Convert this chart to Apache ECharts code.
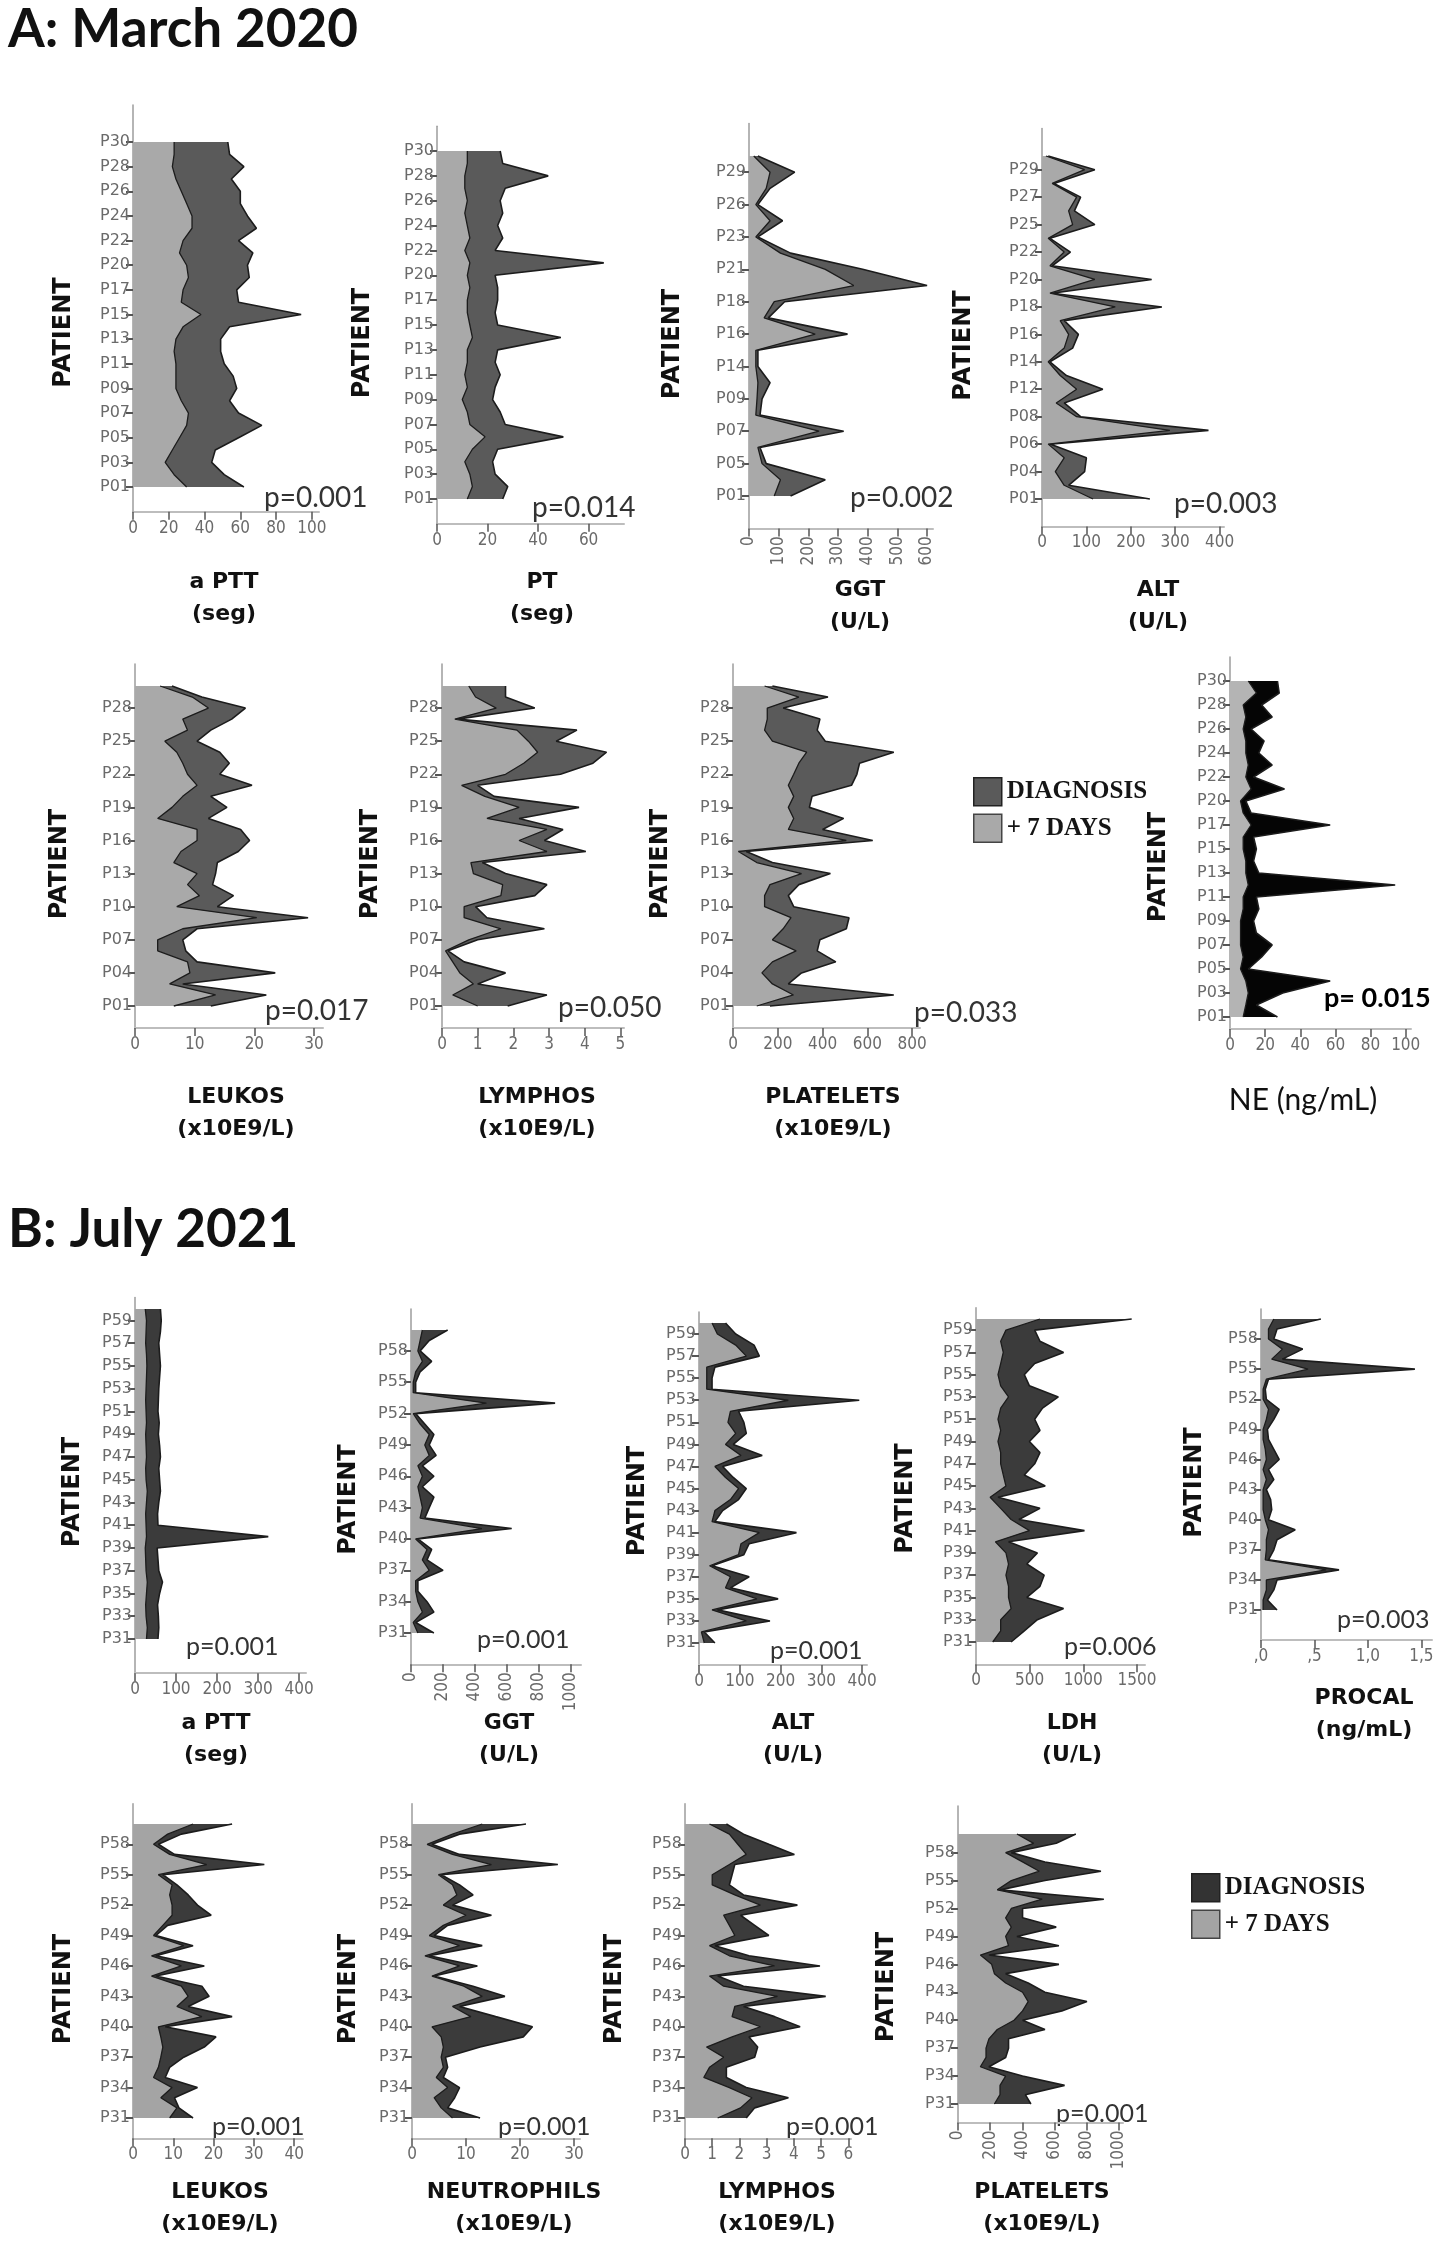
<!DOCTYPE html>
<html>
<head>
<meta charset="utf-8">
<title>Laboratory values by patient</title>
<script src="https://cdn.jsdelivr.net/npm/echarts@6.0.0/dist/echarts.min.js"></script>
<style>
  html, body { margin: 0; padding: 0; background: #fff; }
  #chart { width: 1444px; height: 2244px; }
</style>
</head>
<body>
<div id="chart"></div>
<script>
// patient lists (categories, bottom to top)
var patientsA = ['P01','P02','P03','P04','P05','P06','P07','P08','P09','P10','P11','P12','P13','P14','P15','P16','P17','P18','P19','P20','P21','P22','P23','P24','P25','P26','P27','P28','P29','P30'];
var patientsA29 = ['P01','P02','P03','P04','P05','P06','P07','P08','P09','P10','P11','P12','P13','P14','P15','P16','P17','P18','P20','P21','P22','P23','P24','P25','P26','P27','P28','P29','P30'];
var patientsAggt = ['P01','P03','P05','P06','P07','P08','P09','P11','P14','P15','P16','P17','P18','P20','P21','P22','P23','P25','P26','P27','P29','P30'];
var patientsAalt = ['P01','P03','P04','P05','P06','P07','P08','P10','P12','P13','P14','P15','P16','P17','P18','P19','P20','P21','P22','P24','P25','P26','P27','P28','P29','P30'];
var patientsB = ['P31','P32','P33','P34','P35','P36','P37','P38','P39','P40','P41','P42','P43','P44','P45','P46','P47','P48','P49','P50','P51','P52','P53','P54','P55','P56','P57','P58','P59','P60'];

// A: March 2020
var apttA_diag = [62,51,44,46,59,72,59,54,58,56,51,49,49,54,94,59,58,65,64,67,59,69,64,60,60,55,62,54,53];
var apttA_day7 = [30,23,18,22,26,30,31,27,24,24,24,23,24,28,38,27,28,31,30,26,28,33,33,30,27,24,22,23,23];
var ptA_diag = [26,28,23,22,24,50,27,25,22,23,25,23,24,49,24,23,24,24,23,66,23,26,24,26,25,27,44,26,25];
var ptA_day7 = [12,14,13,11,14,19,13,12,10,12,11,12,12,14,13,12,12,13,12,13,11,13,12,11,12,11,11,12,12];
var ggtA_diag = [140,257,58,37,319,37,44,71,30,30,332,65,120,600,383,140,30,113,30,71,154,30];
var ggtA_day7 = [85,106,44,30,236,23,27,30,23,23,223,51,85,353,257,106,23,71,23,58,71,16];
var altA_diag = [243,60,96,100,18,375,87,50,137,55,18,69,82,50,270,23,247,23,64,18,119,73,87,27,119,14];
var altA_day7 = [115,50,30,50,14,288,78,32,78,41,14,50,60,41,165,18,119,18,50,14,69,60,78,23,96,9];
var leukosA_diag = [12.7,22,8,23.5,10.4,8.5,8,10.4,29,13.8,16.5,13,13.5,13.8,17.3,19.2,17.7,12.3,15.4,12.7,19.6,14.2,15.8,14.2,10.4,12.7,16.2,18.5,11.2,6.2];
var leukosA_day7 = [6.5,13.5,5.8,9.2,8.8,3.8,3.8,8,20.4,7,10.8,8.8,10.4,6.5,7.7,10.4,10.4,3.8,6.2,8,10.4,8.8,8,7,5,8.8,8,12.3,9.6,4.2];
var lymphosA_diag = [1.84,2.94,1.0,1.78,0.62,0.17,1.0,2.87,1.26,0.94,2.6,2.94,1.78,1.13,4.03,2.87,3.39,2.16,3.84,1.46,1.0,3.32,4.23,4.61,3.2,3.78,0.43,2.6,1.78,1.78];
var lymphosA_day7 = [1.0,0.3,0.88,0.5,0.3,0.1,0.75,1.65,0.62,0.62,1.65,1.7,0.88,0.81,2.94,2.16,2.94,1.26,2.16,1.2,0.55,1.78,2.29,2.68,2.42,2.1,0.36,1.52,0.94,0.75];
var plateletsA_diag = [165,718,247,306,459,376,388,506,518,271,247,294,435,176,59,624,400,494,341,353,529,553,565,718,412,376,388,224,424,176];
var plateletsA_day7 = [106,270,176,129,176,282,176,224,259,141,141,165,306,106,24,506,247,271,247,271,247,271,294,329,176,141,153,153,294,141];
var neA_diag = [27,15,30,57,10.4,18,24,15,13.4,16.4,15,94,16.4,13.4,15,13.4,57,12,9,31,13.4,24,16.4,19.4,12,24,18,28,27];
var neA_day7 = [7.5,9,10.4,9,6,7.5,6,6,6,7.5,7.5,10.4,9,9,7.5,7.5,12,7.5,6,12,9,10.4,9,9,7.5,9,7.5,15,10.4];

// B: July 2021
var apttB_diag = [56,58,57,55,60,67,58,56,54,325,56,55,58,62,60,58,62,60,57,59,56,57,58,60,62,60,58,62,64,62];
var apttB_day7 = [28,30,27,26,28,30,27,26,25,28,27,26,28,30,27,26,28,27,26,28,27,26,27,28,29,28,26,27,28,25];
var ggtB_diag = [143,29,143,100,43,43,200,100,129,43,629,86,114,143,71,143,71,157,114,143,86,29,900,29,29,57,129,57,114,229];
var ggtB_day7 = [43,14,71,43,29,29,114,71,100,29,443,57,71,57,43,71,43,114,86,114,57,14,471,14,14,29,71,43,57,71];
var altB_diag = [39,13,174,45,194,77,123,32,110,123,239,39,58,97,116,84,58,155,84,116,110,97,393,32,32,39,148,135,90,65];
var altB_day7 = [13,6,116,32,142,65,77,26,97,103,148,32,39,77,97,65,39,103,65,90,71,77,219,19,19,19,116,90,45,32];
var ldhB_diag = [327,450,572,816,474,596,635,474,572,303,1011,400,596,205,645,450,547,596,498,596,547,620,767,498,450,547,816,596,547,1451];
var ldhB_day7 = [156,230,230,327,303,303,279,303,279,181,498,327,230,132,279,254,230,230,205,230,205,230,303,230,205,230,254,230,279,596];
var procalB_diag = [0.15,0.06,0.12,0.15,0.73,0.07,0.12,0.15,0.32,0.07,0.1,0.09,0.05,0.12,0.07,0.17,0.12,0.07,0.06,0.12,0.17,0.05,0.04,0.07,1.44,0.2,0.39,0.12,0.15,0.56];
var procalB_day7 = [0.02,0.02,0.05,0.05,0.61,0.04,0.05,0.05,0.07,0.04,0.02,0.02,0.02,0.05,0.02,0.05,0.04,0.02,0.02,0.05,0.07,0.02,0.02,0.05,0.44,0.1,0.2,0.07,0.07,0.12];
var leukosB_diag = [14.9,11.4,10.3,16,8,9.1,12.6,17.7,20.6,8,24.6,13.7,18.9,17.1,5.7,17.7,5.7,14.9,5.7,8.6,19.4,16,13.7,10.9,7.4,32.6,10.3,6.3,12,24.6];
var leukosB_day7 = [9.1,10.9,6.9,9.7,5.1,6.3,6.9,7.4,6.9,6.3,17.1,10.9,13.7,12,4.6,12,4.6,12.6,5.1,7.4,9.7,9.7,9.1,9.7,6.3,18.3,9.1,5.1,8.6,14.9];
var neutroB_diag = [12.6,6.6,7.9,8.8,5.8,6.6,6.2,12.6,20.6,22.3,15.5,8.8,17.2,11.3,4.1,12.1,3.2,13,4.1,6.6,14.7,7.5,11.3,8.8,5.4,27,8.8,3.7,8.8,21.1];
var neutroB_day7 = [7.5,5.4,4.1,6.6,4.5,5.8,5.4,5.8,5.4,3.7,10.9,7.5,13,9.6,3.7,8.8,2.4,8.8,3.2,5.8,10,5.8,8.3,7.5,4.9,14.7,7.5,2.8,7.5,13];
var lymphosB_diag = [2.25,2.56,3.8,2.25,1.52,1.52,2.56,2.67,2.35,4.23,3.29,2.15,5.17,2.15,1.2,4.96,2.35,1.1,3.08,2.56,2.04,4.13,2.15,1.63,1.73,1.83,4.02,3.08,2.15,1.52];
var lymphosB_day7 = [1.2,2.04,2.46,1.63,0.69,0.9,1.42,0.79,1.73,2.77,1.73,1.83,3.4,1.42,0.9,3.29,1.63,0.9,1.83,1.63,1.42,2.77,1.83,1.0,1.0,1.63,2.25,1.94,1.63,0.9];
var plateletsB_diag = [453,418,662,401,192,296,314,314,540,401,645,801,540,436,296,627,192,627,366,610,401,401,906,261,540,888,540,331,610,732];
var plateletsB_day7 = [226,261,261,296,139,174,174,192,244,348,401,436,401,296,226,209,139,314,296,331,296,331,523,244,331,505,401,296,470,366];

// x tick labels per panel
var ticks100 = [0,20,40,60,80,100];
var ticksPT = [0,20,40,60];
var ticksGgtA = [0,100,200,300,400,500,600];
var ticksAlt = [0,100,200,300,400];
var ticksLeukosA = [0,10,20,30];
var ticksLymphosA = [0,1,2,3,4,5];
var ticksPlateletsA = [0,200,400,600,800];
var ticksGgtB = [0,200,400,600,800,1000];
var ticksLdh = [0,500,1000,1500];
var ticksProcal = [0,0.5,1,1.5];
var ticksLeukosB = [0,10,20,30,40];
var ticksNeutro = [0,10,20,30];
var ticksLymphosB = [0,1,2,3,4,5,6];

var themes = {
  A:  { dark: '#5a5a5a', light: '#a9a9a9' },
  NE: { dark: '#050505', light: '#b4b4b4' },
  B:  { dark: '#3b3b3b', light: '#a4a4a4' }
};

// box = [left, axisTop, dataTop, dataBottom, xAxisY, width]
var panels = [
  { cats: patientsA29, step: 2, diag: apttA_diag, day7: apttA_day7, max: 104, ticks: ticks100,
    box: [133,108,142,487,514,186], title: ['a PTT','(seg)'], tx: 224, ty: 582, p: 'p=0.001', px: 264, py: 498, patX: 64, theme: 'A' },
  { cats: patientsA29, step: 2, diag: ptA_diag, day7: ptA_day7, max: 74, ticks: ticksPT,
    box: [437,125,151,499,524,187], title: ['PT','(seg)'], tx: 542, ty: 582, p: 'p=0.014', px: 532, py: 508, patX: 363, theme: 'A' },
  { cats: patientsAggt, step: 2, diag: ggtA_diag, day7: ggtA_day7, max: 620, ticks: ticksGgtA, rotate: 90,
    box: [749,131,156,496,521,184], title: ['GGT','(U/L)'], tx: 860, ty: 590, p: 'p=0.002', px: 850, py: 498, patX: 673, theme: 'A' },
  { cats: patientsAalt, step: 2, diag: altA_diag, day7: altA_day7, max: 410, ticks: ticksAlt,
    box: [1042,131,156,499,521,182], title: ['ALT','(U/L)'], tx: 1158, ty: 590, p: 'p=0.003', px: 1174, py: 504, patX: 964, theme: 'A' },

  { cats: patientsA, step: 3, diag: leukosA_diag, day7: leukosA_day7, max: 31.5, ticks: ticksLeukosA,
    box: [135,664,686,1006,1030,188], title: ['LEUKOS','(x10E9/L)'], tx: 236, ty: 1097, p: 'p=0.017', px: 265, py: 1011, patX: 60, theme: 'A' },
  { cats: patientsA, step: 3, diag: lymphosA_diag, day7: lymphosA_day7, max: 5.1, ticks: ticksLymphosA,
    box: [442,664,686,1006,1030,182], title: ['LYMPHOS','(x10E9/L)'], tx: 537, ty: 1097, p: 'p=0.050', px: 558, py: 1008, patX: 371, theme: 'A' },
  { cats: patientsA, step: 3, diag: plateletsA_diag, day7: plateletsA_day7, max: 835, ticks: ticksPlateletsA,
    box: [733,664,686,1006,1030,187], title: ['PLATELETS','(x10E9/L)'], tx: 833, ty: 1097, p: 'p=0.033', px: 914, py: 1013, patX: 661, theme: 'A' },
  { cats: patientsA29, step: 2, diag: neA_diag, day7: neA_day7, max: 103, ticks: ticks100,
    box: [1230,662,681,1017,1030,181], title: ['NE (ng/mL)'], titleRegular: true, tx: 1303, ty: 1100, p: 'p= 0.015', pBold: true, px: 1324, py: 998, patX: 1159, theme: 'NE' },

  { cats: patientsB, step: 2, diag: apttB_diag, day7: apttB_day7, max: 417, ticks: ticksAlt,
    box: [135,1295,1309,1639,1669,171], title: ['a PTT','(seg)'], tx: 216, ty: 1723, p: 'p=0.001', px: 186, py: 1647, patX: 73, theme: 'B', small: true },
  { cats: patientsB, step: 3, diag: ggtB_diag, day7: ggtB_day7, max: 1062, ticks: ticksGgtB, rotate: 90,
    box: [411,1304,1330,1633,1662,170], title: ['GGT','(U/L)'], tx: 509, ty: 1723, p: 'p=0.001', px: 477, py: 1640, patX: 349, theme: 'B', small: true },
  { cats: patientsB, step: 2, diag: altB_diag, day7: altB_day7, max: 412, ticks: ticksAlt,
    box: [699,1307,1323,1643,1666,168], title: ['ALT','(U/L)'], tx: 793, ty: 1723, p: 'p=0.001', px: 770, py: 1651, patX: 638, theme: 'B', small: true },
  { cats: patientsB, step: 2, diag: ldhB_diag, day7: ldhB_day7, max: 1575, ticks: ticksLdh,
    box: [976,1304,1319,1642,1664,169], title: ['LDH','(U/L)'], tx: 1072, ty: 1723, p: 'p=0.006', px: 1064, py: 1647, patX: 906, theme: 'B', small: true },
  { cats: patientsB, step: 3, diag: procalB_diag, day7: procalB_day7, max: 1.6, ticks: ticksProcal, comma: true,
    box: [1261,1304,1319,1610,1636,171], title: ['PROCAL','(ng/mL)'], tx: 1364, ty: 1698, p: 'p=0.003', px: 1337, py: 1620, patX: 1195, theme: 'B', small: true },

  { cats: patientsB, step: 3, diag: leukosB_diag, day7: leukosB_day7, max: 42.2, ticks: ticksLeukosB,
    box: [133,1805,1824,2118,2141,170], title: ['LEUKOS','(x10E9/L)'], tx: 220, ty: 2192, p: 'p=0.001', px: 212, py: 2127, patX: 64, theme: 'B', small: true },
  { cats: patientsB, step: 3, diag: neutroB_diag, day7: neutroB_day7, max: 31.1, ticks: ticksNeutro,
    box: [412,1805,1824,2118,2141,168], title: ['NEUTROPHILS','(x10E9/L)'], tx: 514, ty: 2192, p: 'p=0.001', px: 498, py: 2127, patX: 349, theme: 'B', small: true },
  { cats: patientsB, step: 3, diag: lymphosB_diag, day7: lymphosB_day7, max: 6.1, ticks: ticksLymphosB,
    box: [685,1805,1824,2118,2141,166], title: ['LYMPHOS','(x10E9/L)'], tx: 777, ty: 2192, p: 'p=0.001', px: 786, py: 2127, patX: 615, theme: 'B', small: true },
  { cats: patientsB, step: 3, diag: plateletsB_diag, day7: plateletsB_day7, max: 1025, ticks: ticksGgtB, rotate: 90,
    box: [958,1810,1834,2104,2124,165], title: ['PLATELETS','(x10E9/L)'], tx: 1042, ty: 2192, p: 'p=0.001', px: 1056, py: 2114, patX: 887, theme: 'B', small: true }
];

var catFont = '"DejaVu Sans", sans-serif';
var valFont = '"Liberation Sans Narrow", "DejaVu Sans Condensed", sans-serif';
var grids = [], xAxes = [], yAxes = [], series = [], graphics = [];

panels.forEach(function (pn, k) {
  var b = pn.box, n = pn.cats.length;
  var spacing = (b[3] - b[2]) / (n - 1);
  var padB = Math.max(1, Math.round((b[4] - b[3]) / spacing));
  var padT = Math.max(0, Math.round((b[2] - b[1]) / spacing));
  var cats = [], i;
  for (i = 0; i < padB; i++) cats.push('_b' + i);
  cats = cats.concat(pn.cats);
  for (i = 0; i < padT; i++) cats.push('_t' + i);
  var pad = function (arr) {
    var out = [];
    for (var j = 0; j < padB; j++) out.push(null);
    out = out.concat(arr);
    for (var j2 = 0; j2 < padT; j2++) out.push(null);
    return out;
  };
  var showIdx = function (idx) {
    return idx >= padB && idx < padB + n && (idx - padB) % pn.step === 0;
  };
  var th = themes[pn.theme];

  grids.push({
    left: b[0], top: b[2] - padT * spacing, width: b[5],
    height: (n - 1 + padT + padB) * spacing, containLabel: false
  });
  xAxes.push({
    gridIndex: k, type: 'value', min: 0, max: pn.max,
    axisLine: { show: true, lineStyle: { color: '#bdbdbd', width: 2 } },
    axisTick: { show: true, customValues: pn.ticks, length: 8, lineStyle: { color: '#555', width: 1.5 } },
    axisLabel: {
      customValues: pn.ticks, color: '#6a6a6a', fontSize: 17, fontFamily: valFont,
      rotate: pn.rotate || 0, margin: 8,
      formatter: function (v) {
        if (!pn.comma) return String(v);
        return v < 1 ? ',' + String(Math.round(v * 10)) : v.toFixed(1).replace('.', ',');
      }
    },
    splitLine: { show: false }
  });
  yAxes.push({
    gridIndex: k, type: 'category', data: cats, boundaryGap: false,
    axisLine: { show: true, lineStyle: { color: '#9c9c9c', width: 1.5 } },
    axisTick: { show: true, interval: showIdx, length: 7, lineStyle: { color: '#555', width: 2 } },
    axisLabel: { interval: showIdx, color: '#6a6a6a', fontSize: 16, fontFamily: catFont, margin: 3 },
    splitLine: { show: false }
  });
  series.push({
    type: 'line', name: 'DIAGNOSIS', xAxisIndex: k, yAxisIndex: k, data: pad(pn.diag),
    symbol: 'none', z: 2, lineStyle: { color: '#1c1c1c', width: 1.6 },
    areaStyle: { color: th.dark, opacity: 1 }
  });
  series.push({
    type: 'line', name: '+ 7 DAYS', xAxisIndex: k, yAxisIndex: k, data: pad(pn.day7),
    symbol: 'none', z: 3, lineStyle: { color: '#1c1c1c', width: 1.3 },
    areaStyle: { color: th.light, opacity: 1 }
  });

  // axis names and p-values
  graphics.push({
    type: 'text', x: pn.patX, y: (b[2] + b[3]) / 2 + 18, rotation: Math.PI / 2,
    style: { text: 'PATIENT', font: 'bold 24px "DejaVu Sans", sans-serif', fill: '#111',
             align: 'center', verticalAlign: 'middle' }
  });
  pn.title.forEach(function (t, j) {
    graphics.push({
      type: 'text', x: pn.tx, y: pn.ty + j * 32,
      style: { text: t,
               font: pn.titleRegular ? '30px Lato, sans-serif' : 'bold 22px "DejaVu Sans", sans-serif',
               fill: '#111', align: 'center', verticalAlign: 'middle' }
    });
  });
  graphics.push({
    type: 'text', x: pn.px, y: pn.py,
    style: { text: pn.p, font: (pn.pBold ? 'bold 27px' : (pn.small ? '25px' : '28px')) + ' Lato, sans-serif',
             fill: pn.pBold ? '#000' : '#333', align: 'left', verticalAlign: 'middle' }
  });
});

graphics.push({
  type: 'text', x: 8, y: 30,
  style: { text: 'A: March 2020', font: 'bold 53px Lato, sans-serif', fill: '#111', align: 'left', verticalAlign: 'middle' }
});
graphics.push({
  type: 'text', x: 8, y: 1230,
  style: { text: 'B: July 2021', font: 'bold 53px Lato, sans-serif', fill: '#111', align: 'left', verticalAlign: 'middle' }
});

function legendAt(left, top, dark, light) {
  return {
    left: left, top: top, orient: 'vertical', selectedMode: false,
    itemWidth: 28, itemHeight: 28, itemGap: 7,
    textStyle: { fontFamily: '"Liberation Serif", serif', fontSize: 25, fontWeight: 'bold', color: '#151515' },
    data: [
      { name: 'DIAGNOSIS', icon: 'rect', itemStyle: { color: dark, borderColor: '#222', borderWidth: 1.5 } },
      { name: '+ 7 DAYS', icon: 'rect', itemStyle: { color: light, borderColor: '#444', borderWidth: 1.5 } }
    ]
  };
}

var chart = echarts.init(document.getElementById('chart'), null, { renderer: 'canvas' });
chart.setOption({
  backgroundColor: '#fff',
  animation: false,
  legend: [
    legendAt(968, 772, themes.A.dark, themes.A.light),
    legendAt(1186, 1868, '#333', themes.B.light)
  ],
  grid: grids,
  xAxis: xAxes,
  yAxis: yAxes,
  series: series,
  graphic: graphics
});
</script>
</body>
</html>
